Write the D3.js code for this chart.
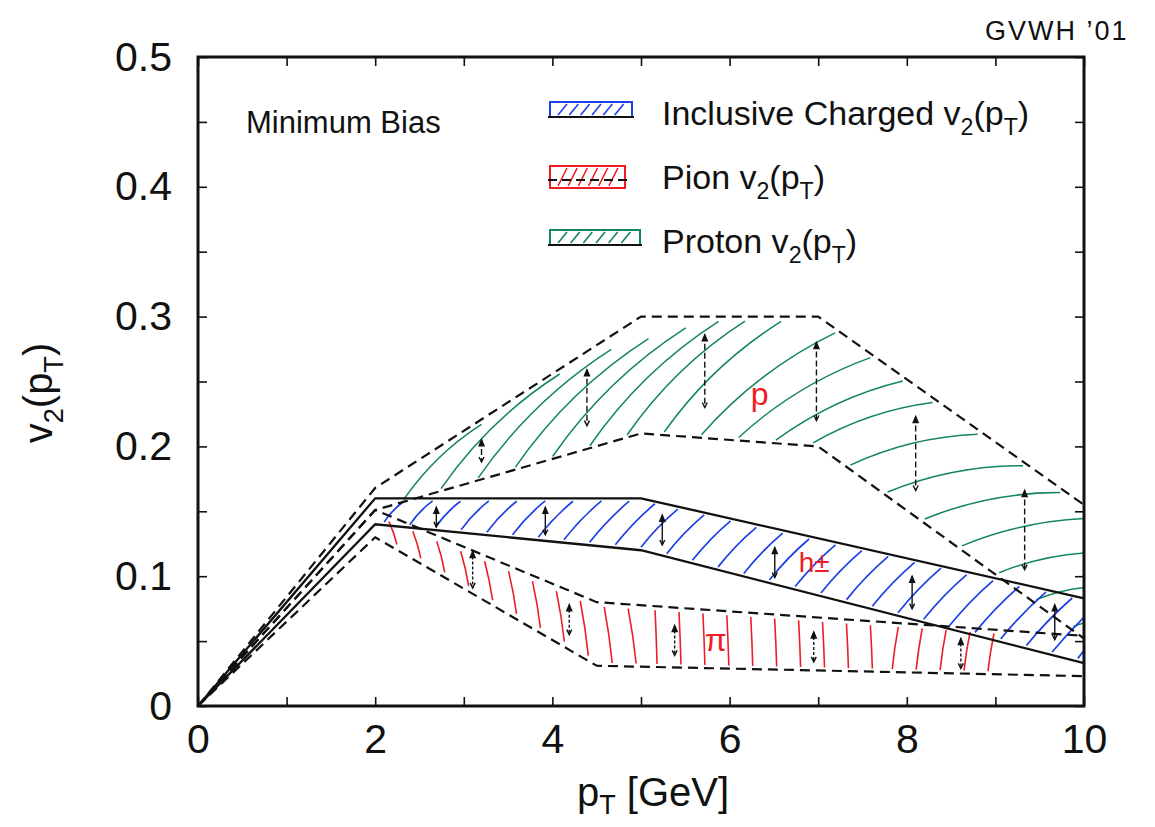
<!DOCTYPE html>
<html>
<head>
<meta charset="utf-8">
<script src="https://cdn.jsdelivr.net/npm/d3@7"></script>
<style>
  body { margin: 0; background: #fff; }
  svg { display: block; }
  text { font-family: "Liberation Sans", Arial, Helvetica, sans-serif; fill: #111; }
</style>
</head>
<body>
<svg id="chart" width="1155" height="827"></svg>
<script>
// ---- data: v2(pT) band boundaries [pT (GeV), v2] ----
const xTickLabels = [0, 2, 4, 6, 8, 10];
const yTickLabels = [0, 0.1, 0.2, 0.3, 0.4, 0.5];

const chargedUpper = [[0, 0], [2, 0.160], [5, 0.160], [10, 0.083]];
const chargedLower = [[0, 0], [2, 0.140], [5, 0.120], [10, 0.033]];
const pionUpper    = [[0, 0], [2, 0.151], [4.5, 0.080], [10, 0.054]];
const pionLower    = [[0, 0], [2, 0.130], [4.5, 0.031], [10, 0.023]];
const protonUpper  = [[0, 0], [2, 0.168], [5, 0.300], [7, 0.300], [10, 0.155]];
const protonLower  = [[0, 0], [2, 0.151], [5, 0.210], [7, 0.200], [10, 0.052]];

// error arrows [pT, low, high]
const protonErr  = [[3.20, 0.188, 0.205], [4.39, 0.216, 0.259], [5.72, 0.230, 0.286],
                    [6.98, 0.220, 0.280], [8.10, 0.166, 0.223], [9.33, 0.105, 0.166]];
const chargedErr = [[2.69, 0.138, 0.153], [3.92, 0.132, 0.153], [5.24, 0.124, 0.147],
                    [6.51, 0.099, 0.122], [8.06, 0.075, 0.100], [9.67, 0.051, 0.078]];
const pionErr    = [[3.10, 0.091, 0.119], [4.19, 0.055, 0.078], [5.38, 0.039, 0.062],
                    [6.95, 0.034, 0.057], [8.61, 0.029, 0.052]];

const legendItems = [
  { name: "Inclusive Charged v", color: "#1f3fe6", kind: "charged" },
  { name: "Pion v",              color: "#ee1c25", kind: "pion" },
  { name: "Proton v",            color: "#13865a", kind: "proton" }
];

// ---- layout ----
const svg = d3.select("#chart");
const x = d3.scaleLinear().domain([0, 10]).range([198, 1084]);
const y = d3.scaleLinear().domain([0, 0.5]).range([706, 57]);

const BLUE = "#1f3fe6", RED = "#ee1c25", GREEN = "#13865a";

// piecewise-linear lookup along a boundary
function at(arr, p) {
  if (p <= arr[0][0]) return arr[0][1];
  for (let i = 1; i < arr.length; i++) {
    if (p <= arr[i][0]) {
      const [x0, y0] = arr[i - 1], [x1, y1] = arr[i];
      return y0 + (y1 - y0) * (p - x0) / (x1 - x0);
    }
  }
  return arr[arr.length - 1][1];
}
const line = d3.line().x(d => x(d[0])).y(d => y(d[1]));

const defs = svg.append("defs");
function bandClip(id, up, lo) {
  const poly = up.concat(lo.slice().reverse());
  defs.append("clipPath").attr("id", id)
    .append("path").attr("d", line(poly) + "Z");
}
bandClip("clipCharged", chargedUpper, chargedLower);
bandClip("clipPion", pionUpper, pionLower);
bandClip("clipProton", protonUpper, protonLower);

const plot = svg.append("g");

// walk from a start point at a given angle until the upper boundary (minus an inset) is met
function walk(px, py, deg, upper, maxLen, inset) {
  const a = deg * Math.PI / 180;
  let qx = px, qy = py;
  for (let t = 0; t <= maxLen; t += 1) {
    qx = px + t * Math.cos(a); qy = py - t * Math.sin(a);
    if (qx > x(10) + 20) break;
    if (qy <= y(at(upper, Math.min(x.invert(qx), 10))) + inset) break;
  }
  return [qx, qy];
}

// ---- hatching: proton (green arcs, flattening toward high pT) ----
const gProton = plot.append("g").attr("clip-path", "url(#clipProton)")
  .attr("fill", "none").attr("stroke", GREEN).attr("stroke-width", 1.5);
const protonAngle = s => s <= 5.2 ? 44 : s <= 6.3 ? 44 - (s - 5.2) / 1.1 * 16
  : s <= 7.1 ? 28 - (s - 6.3) / 0.8 * 12 : s <= 7.6 ? 16 - (s - 7.1) / 0.5 * 5 : 11;
for (let s = 2.3; s < 10.1; s += 0.42) {
  const p0 = [x(s) + 2, y(at(protonLower, s)) - 3];
  const p1 = walk(p0[0], p0[1], protonAngle(s), protonUpper, 185, 5);
  const mx = (p0[0] + p1[0]) / 2, my = (p0[1] + p1[1]) / 2;
  const dx = p1[0] - p0[0], dy = p1[1] - p0[1];
  const len = Math.hypot(dx, dy) || 1;
  // bow each stroke toward the upper-left side of its chord
  const nx = dy / len, ny = -dx / len;
  const k = 0.1 * len;
  gProton.append("path")
    .attr("d", `M${p0[0]},${p0[1]} Q${mx + nx * k},${my + ny * k} ${p1[0]},${p1[1]}`);
}

// ---- hatching: inclusive charged (blue diagonals) ----
const gCharged = plot.append("g").attr("clip-path", "url(#clipCharged)")
  .attr("stroke", BLUE).attr("stroke-width", 1.7).attr("fill", "none");
for (let s = 2.1; s < 10.2; s += 0.29) {
  const px = x(s), py = y(at(chargedLower, s)) - 3;
  const [qx, qy] = walk(px, py, 46, chargedUpper, 200, 3);
  gCharged.append("path")
    .attr("d", `M${px},${py} Q${(px + qx) / 2 - 2},${(py + qy) / 2 - 2} ${qx},${qy}`);
}

// ---- hatching: pion (red near-verticals) ----
const gPion = plot.append("g").attr("clip-path", "url(#clipPion)")
  .attr("stroke", RED).attr("stroke-width", 1.6).attr("fill", "none");
for (let s = 2.2; s < 9.2; s += 0.27) {
  const px = x(s);
  const yb = y(at(pionLower, s)) - 3, yt = y(at(pionUpper, s)) + 4;
  const lean = s < 5 ? -4 : (s > 7.6 ? 3 : -1);
  gPion.append("path")
    .attr("d", `M${px + lean},${yt} Q${px - lean * 0.3},${(yt + yb) / 2} ${px - lean},${yb}`);
}

// ---- boundary lines ----
const lines = plot.append("g").attr("fill", "none").attr("stroke", "#111");
lines.append("path").attr("d", line(protonUpper)).attr("stroke-width", 2.2)
  .attr("stroke-dasharray", "10,6");
lines.append("path").attr("d", line(protonLower)).attr("stroke-width", 2.2)
  .attr("stroke-dasharray", "10,6");
lines.append("path").attr("d", line(pionUpper)).attr("stroke-width", 2.2)
  .attr("stroke-dasharray", "10,6");
lines.append("path").attr("d", line(pionLower)).attr("stroke-width", 2.2)
  .attr("stroke-dasharray", "10,6");
lines.append("path").attr("d", line(chargedUpper)).attr("stroke-width", 2.3);
lines.append("path").attr("d", line(chargedLower)).attr("stroke-width", 2.3);

// ---- error arrows ----
function arrows(data, dash) {
  const g = plot.append("g").attr("stroke", "#111").attr("fill", "none").attr("stroke-width", 1.4);
  data.forEach(([p, lo, hi]) => {
    const px = x(p), yt = y(hi), yb = y(lo);
    g.append("line").attr("x1", px).attr("x2", px).attr("y1", yt).attr("y2", yb)
      .attr("stroke-dasharray", dash);
    g.append("path").attr("fill", "#111")
      .attr("d", `M${px - 2.5},${yt + 6} L${px},${yt} L${px + 2.5},${yt + 6} Z`);
    g.append("path")
      .attr("d", `M${px - 2.5},${yb - 5} L${px},${yb} L${px + 2.5},${yb - 5}`);
  });
}
arrows(protonErr, "6,3");
arrows(chargedErr, null);
arrows(pionErr, "3,2");

// ---- hand-written band tags ----
const tag = plot.append("g").attr("font-family", "'DejaVu Sans', sans-serif");
tag.append("text").attr("x", x(6.24)).attr("y", y(0.232)).attr("font-size", 32)
  .style("fill", RED).text("p");
tag.append("text").attr("x", x(6.78)).attr("y", y(0.103)).attr("font-size", 28)
  .style("fill", RED).text("h±");
tag.append("text").attr("x", x(5.72)).attr("y", y(0.042)).attr("font-size", 32)
  .style("fill", RED).text("π");

// ---- frame and axes ----
svg.append("rect").attr("x", 198).attr("y", 57).attr("width", 886).attr("height", 649)
  .attr("fill", "none").attr("stroke", "#111").attr("stroke-width", 3);

const xMinor = d3.range(0, 11, 1);
const yMinor = d3.range(0, 0.5001, 0.05);
const isLabel = (v, list) => list.some(l => Math.abs(l - v) < 1e-6);

const xAxis = svg.append("g").attr("transform", `translate(0,${y(0)})`)
  .call(d3.axisBottom(x).tickValues(xMinor).tickSizeInner(-9).tickSizeOuter(0).tickPadding(18)
    .tickFormat(v => isLabel(v, xTickLabels) ? d3.format("d")(v) : ""));
xAxis.select(".domain").remove();
xAxis.selectAll("line").attr("stroke", "#111").attr("stroke-width", 1.6);
xAxis.selectAll("text").attr("font-size", 41).attr("fill", "#111")
  .attr("font-family", "'Liberation Sans', Arial, sans-serif");

const xTop = svg.append("g").attr("transform", `translate(0,${y(0.5)})`)
  .call(d3.axisTop(x).tickValues(xMinor).tickSizeInner(-9).tickSizeOuter(0).tickFormat(""));
xTop.select(".domain").remove();
xTop.selectAll("line").attr("stroke", "#111").attr("stroke-width", 1.6);

const yAxis = svg.append("g").attr("transform", `translate(${x(0)},0)`)
  .call(d3.axisLeft(y).tickValues(yMinor).tickSizeInner(-9).tickSizeOuter(0).tickPadding(26)
    .tickFormat(v => isLabel(v, yTickLabels) ? (v === 0 ? "0" : d3.format(".1f")(v)) : ""));
yAxis.select(".domain").remove();
yAxis.selectAll("line").attr("stroke", "#111").attr("stroke-width", 1.6);
yAxis.selectAll("text").attr("font-size", 41).attr("fill", "#111")
  .attr("font-family", "'Liberation Sans', Arial, sans-serif");

const yRight = svg.append("g").attr("transform", `translate(${x(10)},0)`)
  .call(d3.axisRight(y).tickValues(yMinor).tickSizeInner(-9).tickSizeOuter(0).tickFormat(""));
yRight.select(".domain").remove();
yRight.selectAll("line").attr("stroke", "#111").attr("stroke-width", 1.6);

// ---- axis titles ----
function v2pT(sel, base, size) {
  sel.append("tspan").text(base);
  sel.append("tspan").attr("font-size", size * 0.68).attr("dy", size * 0.28).text("2");
  sel.append("tspan").attr("dy", -size * 0.28).text("(p");
  sel.append("tspan").attr("font-size", size * 0.68).attr("dy", size * 0.28).text("T");
  sel.append("tspan").attr("dy", -size * 0.28).text(")");
}

const xt = svg.append("text").attr("x", 653).attr("y", 806).attr("text-anchor", "middle")
  .attr("font-size", 40);
xt.append("tspan").text("p");
xt.append("tspan").attr("font-size", 27).attr("dy", 8).text("T");
xt.append("tspan").attr("dy", -8).text(" [GeV]");

const yt = svg.append("text").attr("transform", "translate(52,393) rotate(-90)")
  .attr("text-anchor", "middle").attr("font-size", 40);
v2pT(yt, "v", 40);

// ---- in-plot labels ----
svg.append("text").attr("x", 246).attr("y", 133).attr("font-size", 31).text("Minimum Bias");

const legend = svg.append("g");
legendItems.forEach((d, i) => {
  const cy = 113 + i * 64;
  const g = legend.append("g");
  const x0 = 550, w = d.kind === "proton" ? 90 : (d.kind === "pion" ? 75 : 82);
  const top = cy - 11, h = d.kind === "pion" ? 22 : 15;
  g.append("rect").attr("x", x0).attr("y", top).attr("width", w).attr("height", h)
    .attr("fill", "none").attr("stroke", d.color).attr("stroke-width", 2);
  for (let k = 0; k < 6; k++) {
    const hx = x0 + 8 + k * (w - 14) / 6;
    g.append("line").attr("x1", hx).attr("y1", top + h - 2).attr("x2", hx + 9).attr("y2", top + 2)
      .attr("stroke", d.color).attr("stroke-width", 1.6);
  }
  const ly = d.kind === "pion" ? top + h - 8 : top + h;
  g.append("line").attr("x1", x0 - 2).attr("x2", x0 + w + 2).attr("y1", ly).attr("y2", ly)
    .attr("stroke", "#111").attr("stroke-width", 2.2)
    .attr("stroke-dasharray", d.kind === "pion" ? "9,5" : null);
  const t = legend.append("text").attr("x", 662).attr("y", cy + 12).attr("font-size", 34);
  v2pT(t, d.name, 34);
});

// ---- author tag ----
svg.append("text").attr("x", 985).attr("y", 40).attr("font-size", 27)
  .attr("font-family", "'DejaVu Sans', sans-serif").attr("letter-spacing", 2)
  .attr("font-weight", 300)
  .text("GVWH ’01");
</script>
</body>
</html>
